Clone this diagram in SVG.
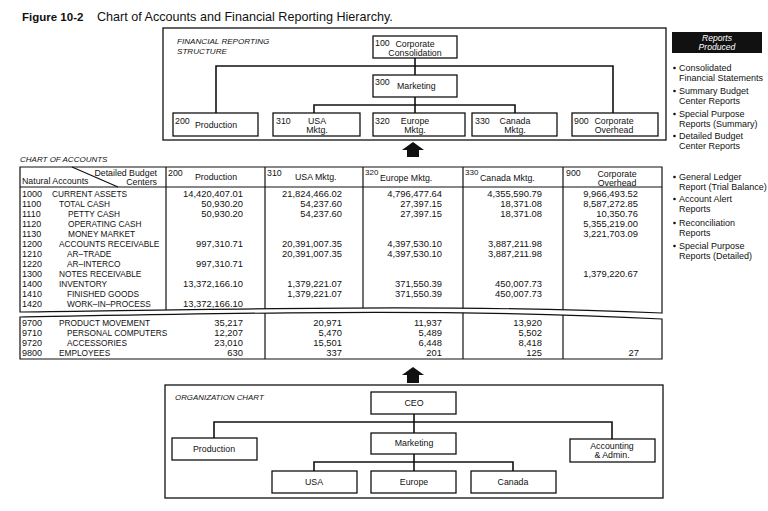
<svg xmlns="http://www.w3.org/2000/svg" width="768" height="511" viewBox="0 0 768 511">
<style>
text{font-family:"Liberation Sans",Arial,sans-serif;fill:#111}
.box{fill:#fff;stroke:#111;stroke-width:1.3}
.frame{fill:none;stroke:#111;stroke-width:1.3}
.ln{stroke:#111;stroke-width:1.6;fill:none}
.tl{stroke:#111;stroke-width:1.2;fill:none}
.t{font-size:8.8px}
.c{font-size:8.8px;text-anchor:middle}
.it{font-size:8.1px;font-style:italic}
.cap{font-size:8.3px}
.num{font-size:9.4px;text-anchor:end}
.acc{font-size:9px}
.rp{font-size:9px}
.sm{font-size:8px}
</style>
<defs>
<clipPath id="upperClip"><path d="M20,167 H662 V313 C450,304 250,309 20,312 Z"/></clipPath>
<clipPath id="lowerClip"><path d="M20,317 C250,313 450,308 662,319 V359 H20 Z"/></clipPath>
</defs>
<rect width="768" height="511" fill="#fff"/>
<text x="22" y="21" style="font-size:11.5px;font-weight:bold">Figure 10-2</text>
<text x="97" y="21" style="font-size:12.6px">Chart of Accounts and Financial Reporting Hierarchy.</text>

<!-- Financial reporting structure -->
<g id="frs-frame">
<rect class="frame" x="163" y="28" width="503" height="112"/>
<text class="it" x="177" y="44">FINANCIAL REPORTING</text>
<text class="it" x="177" y="54">STRUCTURE</text>
</g>
<g id="connectors">
<path class="ln" d="M415,58 V75 M216,113 V66 H613 V113 M415,97 V113 M314,113 V105 H515 V113"/>
<path class="ln" d="M414,414 V433 M214,438 V422 H612 V439 M414,454 V471 M314,471 V462 H513 V471"/>
<polygon fill="#111" points="413,142 424,150 419,150 419,157 407,157 407,150 402,150"/>
<polygon fill="#111" points="413,367 424,375 419,375 419,383 407,383 407,375 402,375"/>
</g>
<g id="n100">
<rect class="box" x="373" y="36" width="84" height="22"/>
<text class="t" x="375" y="46">100</text>
<text class="c" x="415" y="47">Corporate</text>
<text class="c" x="415" y="56">Consolidation</text>
</g>
<g id="n300">
<rect class="box" x="373" y="75" width="84" height="22"/>
<text class="t" x="375" y="85">300</text>
<text class="t" x="397" y="89">Marketing</text>
</g>
<g id="n200">
<rect class="box" x="173" y="113" width="85" height="23"/>
<text class="t" x="175" y="124">200</text>
<text class="t" x="195" y="128">Production</text>
</g>
<g id="n310">
<rect class="box" x="273" y="113" width="87" height="23"/>
<text class="t" x="276" y="124">310</text>
<text class="c" x="317" y="124">USA</text>
<text class="c" x="317" y="133">Mktg.</text>
</g>
<g id="n320">
<rect class="box" x="373" y="113" width="92" height="23"/>
<text class="t" x="375" y="124">320</text>
<text class="c" x="415" y="124">Europe</text>
<text class="c" x="415" y="133">Mktg.</text>
</g>
<g id="n330">
<rect class="box" x="472" y="113" width="85" height="23"/>
<text class="t" x="475" y="124">330</text>
<text class="c" x="515" y="124">Canada</text>
<text class="c" x="515" y="133">Mktg.</text>
</g>
<g id="n900">
<rect class="box" x="572" y="113" width="86" height="23"/>
<text class="t" x="574" y="124">900</text>
<text class="c" x="614" y="124">Corporate</text>
<text class="c" x="614" y="133">Overhead</text>
</g>

<!-- Reports produced -->
<g id="reports">
<rect x="672" y="32" width="90" height="21" fill="#111"/>
<text x="717" y="41" style="font-size:8.6px;font-style:italic;text-anchor:middle;fill:#fff">Reports</text>
<text x="717" y="50" style="font-size:8.6px;font-style:italic;text-anchor:middle;fill:#fff">Produced</text>
<g fill="#111">
<circle cx="674.5" cy="68" r="1.3"/><circle cx="674.5" cy="91" r="1.3"/><circle cx="674.5" cy="114" r="1.3"/><circle cx="674.5" cy="136" r="1.3"/>
<circle cx="674.5" cy="177" r="1.3"/><circle cx="674.5" cy="199" r="1.3"/><circle cx="674.5" cy="223" r="1.3"/><circle cx="674.5" cy="246" r="1.3"/>
</g>
<text class="rp" x="679" y="71">Consolidated</text>
<text class="rp" x="679" y="81">Financial Statements</text>
<text class="rp" x="679" y="94">Summary Budget</text>
<text class="rp" x="679" y="104">Center Reports</text>
<text class="rp" x="679" y="117">Special Purpose</text>
<text class="rp" x="679" y="127">Reports (Summary)</text>
<text class="rp" x="679" y="139">Detailed Budget</text>
<text class="rp" x="679" y="149">Center Reports</text>
<text class="rp" x="679" y="180">General Ledger</text>
<text class="rp" x="679" y="190">Report (Trial Balance)</text>
<text class="rp" x="679" y="202">Account Alert</text>
<text class="rp" x="679" y="212">Reports</text>
<text class="rp" x="679" y="226">Reconciliation</text>
<text class="rp" x="679" y="236">Reports</text>
<text class="rp" x="679" y="249">Special Purpose</text>
<text class="rp" x="679" y="259">Reports (Detailed)</text>
</g>

<!-- Chart of accounts -->
<g id="chart">
<text x="20" y="162" style="font-size:8px;font-style:italic">CHART OF ACCOUNTS</text>
<path class="tl" d="M20,167 H662 V313 C450,304 250,309 20,312 Z"/>
<g clip-path="url(#upperClip)">
<path class="tl" d="M166,167 V330 M265,167 V330 M363,167 V330 M463,167 V330 M563,167 V330"/>
</g>
<path class="tl" d="M20,187 H662"/>
<path class="tl" d="M72,167 L118,187"/>
<path class="tl" d="M20,317 C250,313 450,308 662,319 V359 H20 Z"/>
<g clip-path="url(#lowerClip)">
<path class="tl" d="M265,300 V360 M463,300 V360 M563,300 V360"/>
</g>
<text class="t" x="157" y="176" text-anchor="end">Detailed Budget</text>
<text class="t" x="157" y="184.5" text-anchor="end">Centers</text>
<text class="t" x="22" y="184">Natural Accounts</text>
<text class="t" x="168" y="176">200</text><text class="t" x="195" y="180">Production</text>
<text class="t" x="267" y="176">310</text><text class="t" x="295" y="180">USA Mktg.</text>
<text class="sm" x="365" y="175">320</text><text class="t" x="380" y="181">Europe Mktg.</text>
<text class="sm" x="465" y="175">330</text><text class="t" x="480" y="181">Canada Mktg.</text>
<text class="t" x="566" y="176">900</text><text class="c" x="617" y="177">Corporate</text><text class="c" x="617" y="185.5">Overhead</text>

<g class="acc">
<text x="22" y="197">1000</text><text x="22" y="207">1100</text><text x="22" y="217">1110</text><text x="22" y="227">1120</text>
<text x="22" y="237">1130</text><text x="22" y="247">1200</text><text x="22" y="257">1210</text><text x="22" y="267">1220</text>
<text x="22" y="277">1300</text><text x="22" y="287">1400</text><text x="22" y="297">1410</text><text x="22" y="307">1420</text>
<text x="22" y="326">9700</text><text x="22" y="336">9710</text><text x="22" y="346">9720</text><text x="22" y="356">9800</text>
</g>
<g class="cap">
<text x="52" y="197">CURRENT ASSETS</text>
<text x="59" y="207">TOTAL CASH</text>
<text x="68" y="217">PETTY CASH</text>
<text x="68" y="227">OPERATING CASH</text>
<text x="68" y="237">MONEY MARKET</text>
<text x="59" y="247">ACCOUNTS RECEIVABLE</text>
<text x="67" y="257">AR–TRADE</text>
<text x="67" y="267">AR–INTERCO</text>
<text x="59" y="277">NOTES RECEIVABLE</text>
<text x="59" y="287">INVENTORY</text>
<text x="67" y="297">FINISHED GOODS</text>
<text x="67" y="307">WORK–IN–PROCESS</text>
<text x="59" y="326">PRODUCT MOVEMENT</text>
<text x="67" y="336">PERSONAL COMPUTERS</text>
<text x="67" y="346">ACCESSORIES</text>
<text x="59" y="356">EMPLOYEES</text>
</g>
<g class="num">
<text x="243" y="197">14,420,407.01</text><text x="342" y="197">21,824,466.02</text><text x="442" y="197">4,796,477.64</text><text x="542" y="197">4,355,590.79</text><text x="638" y="197">9,966,493.52</text>
<text x="243" y="207">50,930.20</text><text x="342" y="207">54,237.60</text><text x="442" y="207">27,397.15</text><text x="542" y="207">18,371.08</text><text x="638" y="207">8,587,272.85</text>
<text x="243" y="217">50,930.20</text><text x="342" y="217">54,237.60</text><text x="442" y="217">27,397.15</text><text x="542" y="217">18,371.08</text><text x="638" y="217">10,350.76</text>
<text x="638" y="227">5,355,219.00</text>
<text x="638" y="237">3,221,703.09</text>
<text x="243" y="247">997,310.71</text><text x="342" y="247">20,391,007.35</text><text x="442" y="247">4,397,530.10</text><text x="542" y="247">3,887,211.98</text>
<text x="342" y="257">20,391,007.35</text><text x="442" y="257">4,397,530.10</text><text x="542" y="257">3,887,211.98</text>
<text x="243" y="267">997,310.71</text>
<text x="638" y="277">1,379,220.67</text>
<text x="243" y="287">13,372,166.10</text><text x="342" y="287">1,379,221.07</text><text x="442" y="287">371,550.39</text><text x="542" y="287">450,007.73</text>
<text x="342" y="297">1,379,221.07</text><text x="442" y="297">371,550.39</text><text x="542" y="297">450,007.73</text>
<text x="243" y="307">13,372,166.10</text>
<text x="243" y="326">35,217</text><text x="342" y="326">20,971</text><text x="442" y="326">11,937</text><text x="542" y="326">13,920</text>
<text x="243" y="336">12,207</text><text x="342" y="336">5,470</text><text x="442" y="336">5,489</text><text x="542" y="336">5,502</text>
<text x="243" y="346">23,010</text><text x="342" y="346">15,501</text><text x="442" y="346">6,448</text><text x="542" y="346">8,418</text>
<text x="243" y="356">630</text><text x="342" y="356">337</text><text x="442" y="356">201</text><text x="542" y="356">125</text><text x="639" y="356">27</text>
</g>
</g>

<!-- Organization chart -->
<g id="org-frame">
<rect class="frame" x="165" y="385" width="498" height="113"/>
<text x="175" y="400" style="font-size:7.9px;font-style:italic">ORGANIZATION CHART</text>
</g>
<g id="o-ceo"><rect class="box" x="371" y="392" width="85" height="22"/><text class="c" x="414" y="406">CEO</text></g>
<g id="o-prod"><rect class="box" x="172" y="438" width="85" height="22"/><text class="c" x="214" y="452">Production</text></g>
<g id="o-mkt"><rect class="box" x="371" y="433" width="85" height="21"/><text class="c" x="414" y="446">Marketing</text></g>
<g id="o-acc"><rect class="box" x="570" y="439" width="85" height="23"/><text class="c" x="612" y="449">Accounting</text><text class="c" x="612" y="458">&amp; Admin.</text></g>
<g id="o-usa"><rect class="box" x="272" y="471" width="85" height="22"/><text class="c" x="314" y="485">USA</text></g>
<g id="o-eur"><rect class="box" x="371" y="471" width="85" height="22"/><text class="c" x="414" y="485">Europe</text></g>
<g id="o-can"><rect class="box" x="471" y="471" width="85" height="22"/><text class="c" x="513" y="485">Canada</text></g>
</svg>
